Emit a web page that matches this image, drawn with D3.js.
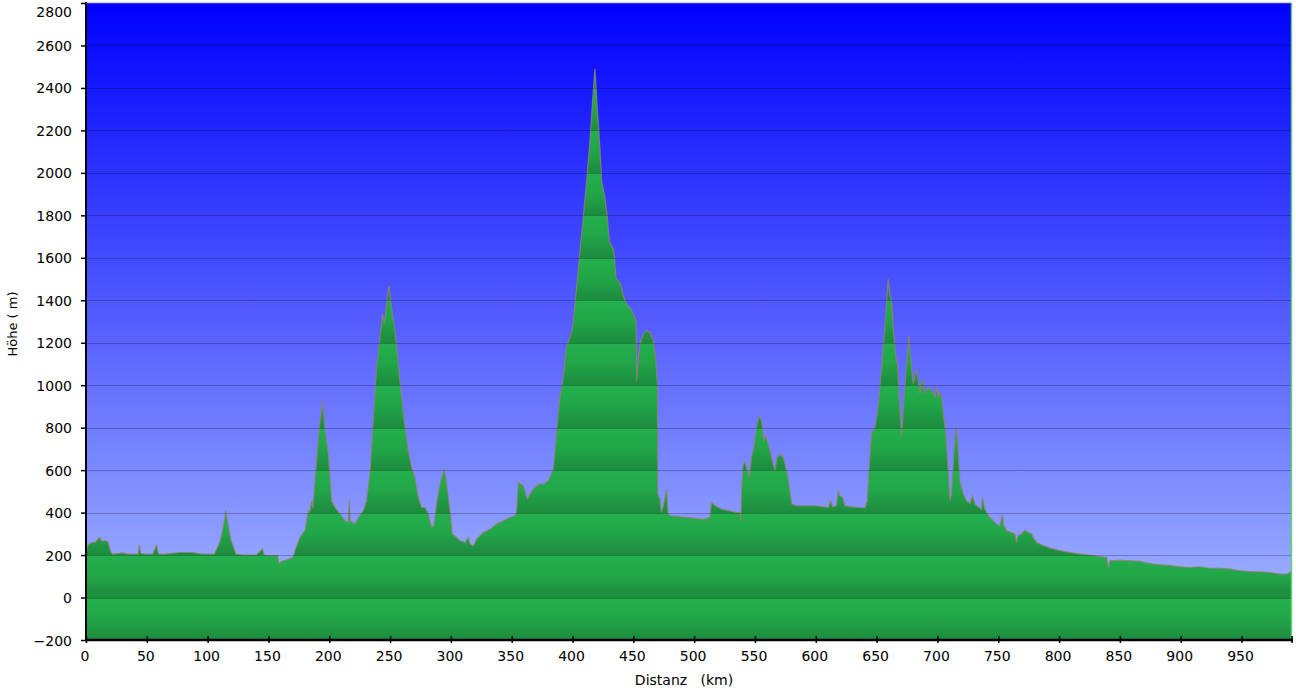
<!DOCTYPE html>
<html>
<head>
<meta charset="utf-8">
<script src="https://cdn.jsdelivr.net/npm/d3@7"></script>
<style>
html,body{margin:0;padding:0;background:#fff;}
svg{display:block;font-family:"DejaVu Sans",Verdana,sans-serif;}
</style>
</head>
<body>
<svg id="chart" width="1296" height="696"></svg>
<script>
// Distance along route (km)
const distKm = [
0,1.5,2.7,5.5,8,11,13,16.4,18,20.5,22,30,35,43,43.8,45,48,55,58,59.5,65,76.7,87.7,95,105.5,108,110,112.3,113.5,115,116,117.3,119.2,121,123.3,130,140,145.2,146.5,149.3,157.6,158.4,159.5,161.7,165,167.1,
170.4,171.8,175.9,178,180,182.8,184,185.5,186.5,189,191.8,193,194.5,196.5,199.2,201.9,204.7,208.8,212.9,215.6,216.5,217.2,221.1,223.9,228,230.7,233.7,236.2,238.9,241.6,243.8,245.2,247.1,249.1,251.2,254,256.7,259.4,262.2,264.9,267.7,270.4,273.2,275.9,278.7,281.4,284.1,286.1,288.2,291,294.6,296.5,299.2,301.1,304.7,307.4,311.6,314.3,315.7,318.4,321.1,
326.6,332.1,337.6,343.1,348.5,352.7,354,355.4,357.3,359.5,360.9,362.8,365,367.7,370.5,373.2,375.9,380.1,382,384.2,385.6,387.5,389.6,392.4,395.1,397.9,400.1,402,403.9,406.1,408.8,411.6,414.3,416.5,418.4,420.3,422.5,423.9,426.6,428.6,430.2,431.3,432.9,434,435.7,437.6,439.5,441.7,444.5,447.2,450,452.2,452.7,454.1,455.4,458.2,460.9,463.7,466.4,468.3,469.7,470.0,471.9,472.9,474.6,476,477.3,478.5,480.1,
488.3,499.2,507.5,512.9,514.3,517.1,522.5,529.4,534.9,537.6,538.4,539,540.3,541.7,543.6,545.3,547.2,549.1,551.3,553.5,555.4,557.3,558.9,560.9,563.6,566.4,568.3,570.5,573.2,576,578.7,580.1,584.2,592.4,600.6,606.1,610.3,612.2,613.8,617.1,618.5,619.8,622,623.9,628,
636.3,640.4,642.3,643.9,645.8,648.6,651.3,654.1,655.4,657.6,659.5,660.9,662.3,663.6,665.8,667.2,668.6,670.5,672.4,674.1,675.4,676.5,678.2,680.1,681.5,682.8,684.2,685.6,686.9,688.3,689.7,691.6,693.8,696,697.9,699.3,700.6,702,703.4,704.8,706.9,708.9,710.2,711.6,713.5,715.2,716.5,718.4,721.2,723.9,726.7,728.9,730.8,733.5,736.3,737.1,739,741.8,745.9,750,
751.3,753.5,754.6,756.8,760.9,763.7,765,766.4,769.1,771.9,774.6,777.4,778.7,781.5,785.6,792.4,799.3,806.1,814.4,822.6,830.8,839.1,840.4,841.8,850,858.2,866.5,874.7,882.9,891.1,899.4,907.6,915.8,924,932.3,940.5,948.7,957,965.2,973.4,981.6,987.1,989.9,991
];
// Elevation (m)
const elevM = [
215,245,252,259,262,283,265,267,262,212,204,210,204,205,248,210,204,205,247,205,204,212,212,205,204,236,260,314,350,408,370,328,267,240,204,200,200,229,200,197,197,158,165,172,178,181,
190,220,283,300,314,408,400,455,420,597,800,850,926,785,675,455,424,393,361,353,463,360,346,377,408,455,597,832,1083,1224,1335,1288,1382,1468,1366,1256,1099,942,800,691,612,565,471,424,424,393,330,340,440,534,605,534,408,299,283,267,259,283,252,243,275,
306,322,346,361,377,385,400,542,534,526,500,463,487,510,526,534,534,550,573,605,691,817,942,1036,1185,1224,1272,1382,1492,1633,1790,1962,2151,2339,2490,2308,2119,1962,1884,1790,1680,1664,1648,1633,1507,1492,1476,1421,1382,1366,1335,1303,1020,1115,1193,1241,1256,1248,1209,1130,1005,487,463,400,430,471,510,393,385,
380,374,368,377,447,432,416,408,400,400,361,502,628,636,597,565,659,706,800,856,832,738,761,722,659,597,659,675,659,597,502,440,432,432,432,427,424,455,427,432,502,479,471,432,427,
424,422,455,612,770,800,895,1083,1177,1335,1500,1429,1397,1272,1130,1099,926,760,926,1068,1146,1232,1115,1005,1036,1076,1020,958,1005,1020,966,981,989,966,942,997,942,966,942,864,770,581,455,487,675,810,738,550,487,455,443,479,440,427,416,471,416,385,361,338,
338,390,338,314,306,299,259,291,299,317,306,299,283,259,248,233,223,215,207,201,195,188,138,173,176,173,170,160,154,151,145,141,145,138,138,134,126,122,121,118,110,110,118,125
];
const yTickValues = [-200,0,200,400,600,800,1000,1200,1400,1600,1800,2000,2200,2400,2600,2800];
const xTickValues = [0,50,100,150,200,250,300,350,400,450,500,550,600,650,700,750,800,850,900,950];
const xTitle = "Distanz   (km)";
const yTitle = "Höhe ( m)";

const data = distKm.map((d,i)=>({km:d, m:elevM[i]}));
const L = 86, R = 1292, T = 3, B = 640;
const x = d3.scaleLinear().domain([0, 991.5]).range([L, R]);
const y = d3.scaleLinear().domain([-200, 2800]).range([B, T]);

const svg = d3.select("#chart");
const defs = svg.append("defs");

const bg = defs.append("linearGradient").attr("id","bg")
  .attr("gradientUnits","userSpaceOnUse").attr("x1",0).attr("x2",0).attr("y1",T).attr("y2",B);
bg.append("stop").attr("offset","0").attr("stop-color","#0000ff");
bg.append("stop").attr("offset","1").attr("stop-color","#a8bcff");

const gg = defs.append("linearGradient").attr("id","gr")
  .attr("gradientUnits","userSpaceOnUse").attr("x1",0).attr("x2",0)
  .attr("y1",y(0)).attr("y2",y(-200)).attr("spreadMethod","repeat");
gg.append("stop").attr("offset","0").attr("stop-color","#23b04d");
gg.append("stop").attr("offset","0.5").attr("stop-color","#21a548");
gg.append("stop").attr("offset","1").attr("stop-color","#1d8a3e");

svg.append("rect").attr("x",L).attr("y",T).attr("width",R-L).attr("height",B-T).attr("fill","url(#bg)");
svg.append("line").attr("x1",L).attr("x2",R).attr("y1",T-0.5).attr("y2",T-0.5).attr("stroke","#d4d4d4").attr("stroke-width",1.5);

const area = d3.area().x(d=>x(d.km)).y0(y(-200)).y1(d=>y(d.m));
svg.append("path").datum(data).attr("d",area).attr("fill","url(#gr)");
const line = d3.line().x(d=>x(d.km)).y(d=>y(d.m));
svg.append("path").datum(data).attr("d",line).attr("fill","none")
  .attr("stroke","#8c8468").attr("stroke-opacity",0.85).attr("stroke-width",1.2);

// gridlines
svg.append("g").selectAll("line").data(yTickValues.filter(v=>v>-200 && v<2800)).join("line")
  .attr("x1",L).attr("x2",R).attr("y1",d=>Math.round(y(d))+0.5).attr("y2",d=>Math.round(y(d))+0.5)
  .attr("stroke","#000").attr("stroke-opacity",0.25).attr("stroke-width",1);

// right edge line
svg.append("line").attr("x1",R-0.5).attr("x2",R-0.5).attr("y1",T).attr("y2",B)
  .attr("stroke","#5fd27a").attr("stroke-width",1.5);

// axes
const yAxis = d3.axisLeft(y).tickValues(yTickValues).tickFormat(d3.format("d")).tickSize(5).tickPadding(9);
const gy = svg.append("g").attr("transform",`translate(${L},0)`).call(yAxis);
gy.select(".domain").remove();
gy.selectAll(".tick line").attr("stroke","#000").attr("stroke-width",1.5);
gy.selectAll(".tick text").attr("font-size",14).attr("fill","#000")
  .attr("font-family","'DejaVu Sans',Verdana,sans-serif")
  .attr("dy", d => d===2800 ? "0.95em" : "0.36em");

const xAxis = d3.axisBottom(x).tickValues(xTickValues).tickFormat(d3.format("d")).tickSize(3).tickPadding(8);
const gx = svg.append("g").attr("transform",`translate(0,${B})`).call(xAxis);
gx.select(".domain").remove();
gx.selectAll(".tick line").attr("stroke","#000").attr("stroke-width",1.5).attr("y1",-4);
gx.selectAll(".tick text").attr("font-size",14).attr("fill","#000").attr("dx",-1.5)
  .attr("font-family","'DejaVu Sans',Verdana,sans-serif");
svg.append("line").attr("x1",R).attr("x2",R).attr("y1",B-4).attr("y2",B+3).attr("stroke","#000").attr("stroke-width",1.5);

// axis lines
svg.append("line").attr("x1",L).attr("x2",L).attr("y1",T-1).attr("y2",B+1).attr("stroke","#000").attr("stroke-width",2);
svg.append("line").attr("x1",L-1).attr("x2",R+1).attr("y1",B).attr("y2",B).attr("stroke","#000").attr("stroke-width",2.5);

// titles
svg.append("text").attr("x",684).attr("y",685).attr("text-anchor","middle")
  .attr("font-size",14).attr("fill","#000").style("white-space","pre").text(xTitle);
svg.append("text").attr("transform","translate(17,324) rotate(-90)").attr("text-anchor","middle")
  .attr("font-size",13).attr("fill","#000").style("white-space","pre").text(yTitle);
</script>
</body>
</html>
